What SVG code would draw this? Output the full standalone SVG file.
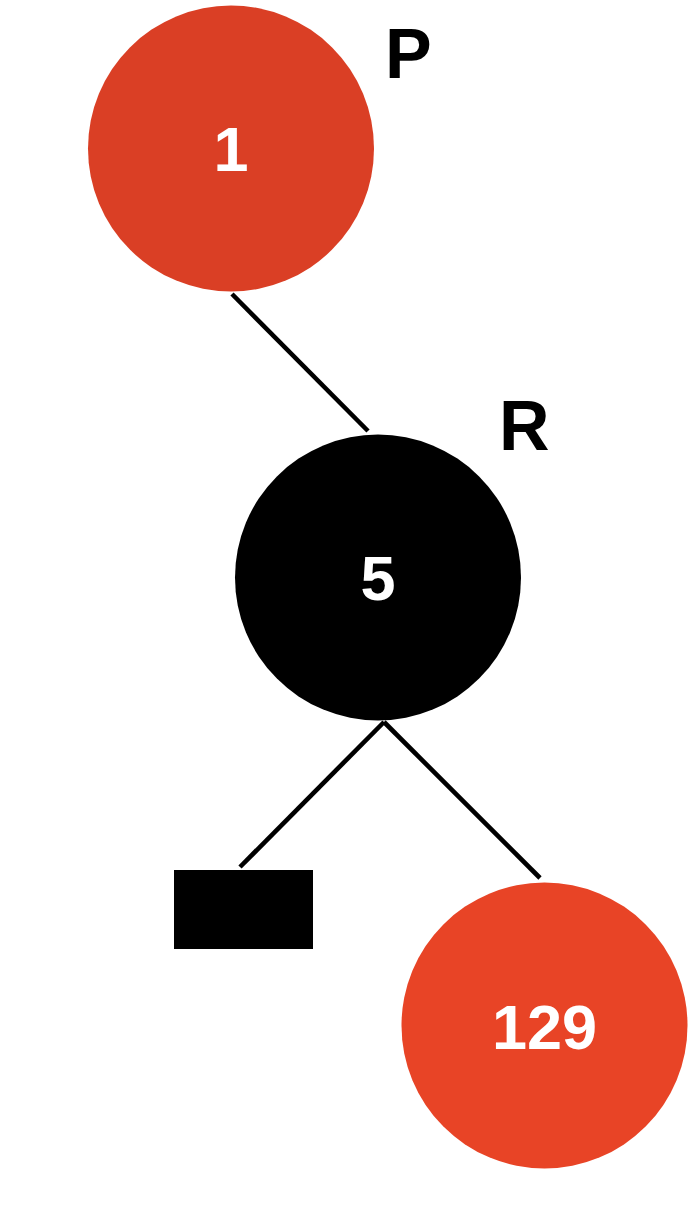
<svg xmlns="http://www.w3.org/2000/svg" width="698" height="1208" viewBox="0 0 698 1208">
<style>
.num{font-family:"Liberation Sans",Arial,sans-serif;font-weight:bold;font-size:63px;fill:#fff;text-anchor:middle}
.lbl{font-family:"Liberation Sans",Arial,sans-serif;font-weight:bold;font-size:70px;fill:#000}
.edge{stroke:#000;stroke-width:4.6;fill:none}
</style>
<rect width="698" height="1208" fill="#fff"/>
<g id="connectors">
<line class="edge" x1="232" y1="294" x2="368" y2="431"/>
<line class="edge" x1="384" y1="722" x2="240" y2="867"/>
<line class="edge" x1="384" y1="722" x2="540" y2="878"/>
</g>
<g id="node-1">
<circle cx="231" cy="148.5" r="143" fill="#DA3F25"/>
<text class="num" x="231" y="171">1</text>
</g>
<g id="label-P"><text class="lbl" x="385" y="78">P</text></g>
<g id="node-5">
<circle cx="378" cy="577.5" r="143" fill="#000"/>
<text class="num" x="378" y="600">5</text>
</g>
<g id="label-R"><text class="lbl" x="499" y="450">R</text></g>
<g id="node-nil">
<rect x="174" y="870" width="139" height="79" fill="#000"/>
</g>
<g id="node-129">
<circle cx="544.5" cy="1025.5" r="143" fill="#E84426"/>
<text class="num" x="544.5" y="1049">129</text>
</g>
</svg>
